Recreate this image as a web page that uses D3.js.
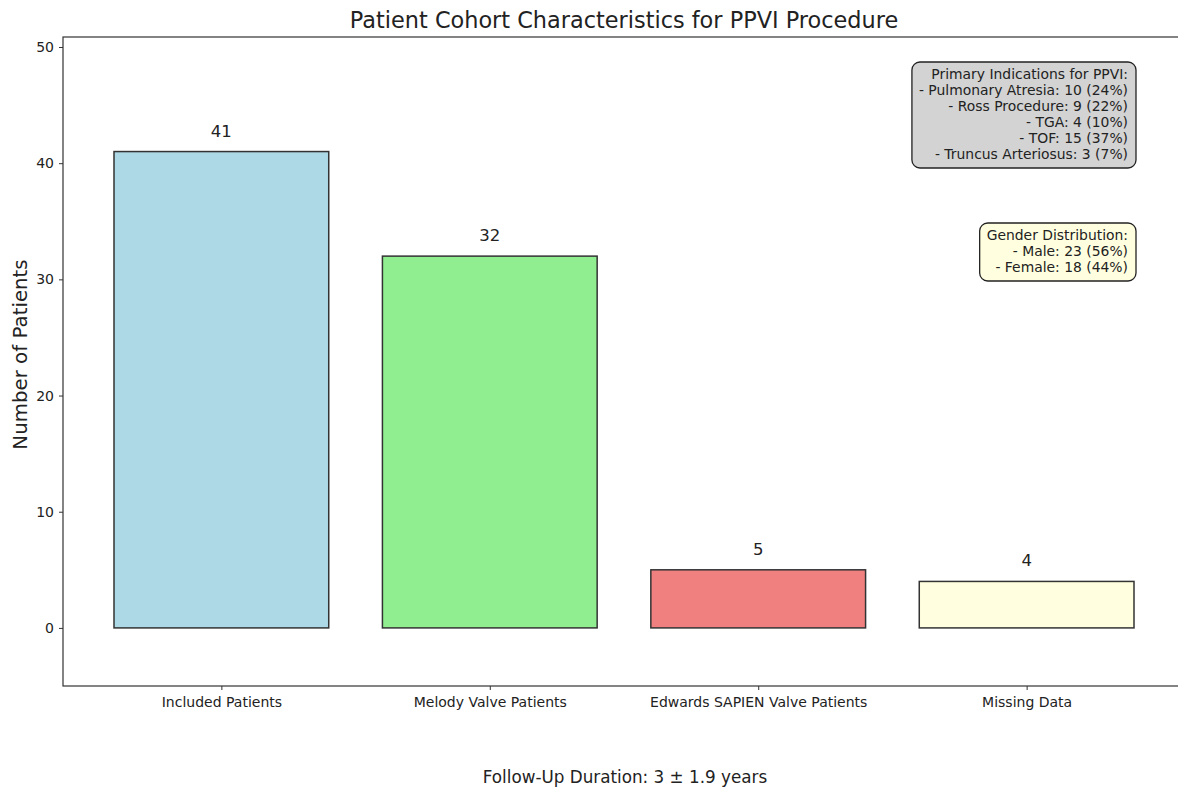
<!DOCTYPE html>
<html>
<head>
<meta charset="utf-8">
<script src="https://cdn.jsdelivr.net/npm/d3@7"></script>
<style>
  body { margin: 0; background: #fff; }
  text { font-family: "DejaVu Sans", sans-serif; fill: #222; }
</style>
</head>
<body>
<svg id="chart" width="1178" height="789"></svg>
<script>
// data
const categories = ["Included Patients", "Melody Valve Patients", "Edwards SAPIEN Valve Patients", "Missing Data"];
const counts = [41, 32, 5, 4];
const barColors = ["#add8e6", "#90ee90", "#f08080", "#ffffe0"];
const yTicks = [0, 10, 20, 30, 40, 50];
const indicationLines = [
  "Primary Indications for PPVI:",
  "- Pulmonary Atresia: 10 (24%)",
  "- Ross Procedure: 9 (22%)",
  "- TGA: 4 (10%)",
  "- TOF: 15 (37%)",
  "- Truncus Arteriosus: 3 (7%)"
];
const genderLines = [
  "Gender Distribution:",
  "- Male: 23 (56%)",
  "- Female: 18 (44%)"
];
const followUp = "Follow-Up Duration: 3 \u00b1 1.9 years";

const svg = d3.select("#chart");
const plotL = 63, plotR = 1185, plotT = 37, plotB = 686;

// x: centers at integer positions, bars 0.8 wide, matplotlib style margins
const x = d3.scaleLinear()
    .domain([-0.59, categories.length - 1 + 0.59])
    .range([plotL, plotR]);
const y = d3.scaleLinear()
    .domain([-5, 50.86])
    .range([plotB, plotT]);
const bw = x(0.8) - x(0);

// bars
svg.append("g")
  .selectAll("rect")
  .data(counts)
  .enter()
  .append("rect")
    .attr("x", (d, i) => x(i) - bw / 2)
    .attr("y", d => y(d))
    .attr("width", bw)
    .attr("height", d => y(0) - y(d))
    .attr("fill", (d, i) => barColors[i])
    .attr("stroke", "#333")
    .attr("stroke-width", 1.5);

// value labels
svg.append("g")
  .selectAll("text")
  .data(counts)
  .enter()
  .append("text")
    .attr("x", (d, i) => x(i))
    .attr("y", d => y(d) - 15)
    .attr("text-anchor", "middle")
    .style("font-size", "16.5px")
    .text(d => d);

// axes
const yAxis = d3.axisLeft(y).tickValues(yTicks).tickSize(4).tickPadding(5);
const gy = svg.append("g").attr("transform", `translate(${plotL},0)`).call(yAxis);
gy.select(".domain").remove();
gy.selectAll("text").style("font-size", "14px").attr("fill", "#222");
gy.selectAll("line").attr("stroke", "#333");

const xAxis = d3.axisBottom(x)
    .tickValues(d3.range(categories.length))
    .tickFormat(i => categories[i])
    .tickSize(4).tickPadding(7);
const gx = svg.append("g").attr("transform", `translate(0,${plotB})`).call(xAxis);
gx.select(".domain").remove();
gx.selectAll("text").style("font-size", "14px").attr("fill", "#222");
gx.selectAll("line").attr("stroke", "#333");

// spines (right one falls off the canvas)
svg.append("rect")
    .attr("x", plotL).attr("y", plotT)
    .attr("width", plotR - plotL).attr("height", plotB - plotT)
    .attr("fill", "none").attr("stroke", "#333").attr("stroke-width", 1.2);

// title & labels
svg.append("text")
    .attr("x", (plotL + plotR) / 2).attr("y", 28)
    .attr("text-anchor", "middle")
    .style("font-size", "22.4px")
    .text("Patient Cohort Characteristics for PPVI Procedure");

svg.append("text")
    .attr("transform", `translate(27,${(plotT + plotB) / 2 - 7}) rotate(-90)`)
    .attr("text-anchor", "middle")
    .style("font-size", "19.8px")
    .text("Number of Patients");

svg.append("text")
    .attr("x", 625).attr("y", 783)
    .attr("text-anchor", "middle")
    .style("font-size", "16.8px")
    .text(followUp);

// annotation boxes
function infoBox(lines, rightX, topY, fill) {
  const g = svg.append("g");
  const lh = 16;
  const t = g.append("text")
      .attr("text-anchor", "end")
      .style("font-size", "13.9px");
  t.selectAll("tspan")
    .data(lines)
    .enter()
    .append("tspan")
      .attr("x", rightX)
      .attr("y", (d, i) => topY + 17 + i * lh)
      .text(d => d);
  const bb = t.node().getBBox();
  g.insert("rect", "text")
      .attr("x", bb.x - 7).attr("y", topY)
      .attr("width", bb.width + 15)
      .attr("height", lines.length * lh + 10)
      .attr("rx", 8).attr("ry", 8)
      .attr("fill", fill)
      .attr("stroke", "#222")
      .attr("stroke-width", 1.3);
}
infoBox(indicationLines, 1128, 62, "#d3d3d3");
infoBox(genderLines, 1128, 223, "#ffffe0");
</script>
</body>
</html>
